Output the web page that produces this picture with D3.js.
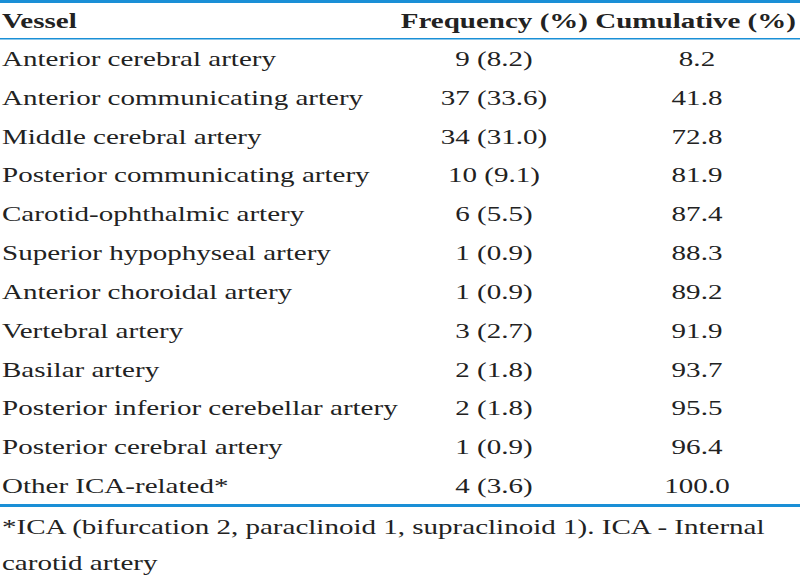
<!DOCTYPE html>
<html><head><meta charset="utf-8">
<script src="https://cdn.jsdelivr.net/npm/d3@7"></script>
<style>body{margin:0;background:#fff}</style>
</head><body>
<script>
const HEADERS = ["Vessel", "Frequency (%)", "Cumulative (%)"];
const VESSELS = ["Anterior cerebral artery", "Anterior communicating artery", "Middle cerebral artery",
  "Posterior communicating artery", "Carotid-ophthalmic artery", "Superior hypophyseal artery",
  "Anterior choroidal artery", "Vertebral artery", "Basilar artery",
  "Posterior inferior cerebellar artery", "Posterior cerebral artery", "Other ICA-related*"];
const FREQUENCY = ["9 (8.2)", "37 (33.6)", "34 (31.0)", "10 (9.1)", "6 (5.5)", "1 (0.9)",
  "1 (0.9)", "3 (2.7)", "2 (1.8)", "2 (1.8)", "1 (0.9)", "4 (3.6)"];
const CUMULATIVE = ["8.2", "41.8", "72.8", "81.9", "87.4", "88.3", "89.2", "91.9", "93.7", "95.5", "96.4", "100.0"];
const FOOTNOTE = ["*ICA (bifurcation 2, paraclinoid 1, supraclinoid 1). ICA - Internal",
  "carotid artery"];

const WIDTH = 800, HEIGHT = 579;
const BLUE = "#1a8fd6";
const FONT = "'Liberation Serif', 'Times New Roman', serif";
const SX = 1.32; // the reference glyphs are horizontally stretched

const svg = d3.select("body").append("svg").attr("width", WIDTH).attr("height", HEIGHT);

const y = d3.scalePoint().domain(d3.range(VESSELS.length)).range([66, 493]);

svg.append("rect").attr("x", 0).attr("y", 0).attr("width", WIDTH).attr("height", 3).attr("fill", BLUE);
svg.append("rect").attr("x", 0).attr("y", 38).attr("width", WIDTH).attr("height", 1.5).attr("fill", BLUE);
svg.append("rect").attr("x", 0).attr("y", 504).attr("width", WIDTH).attr("height", 3).attr("fill", BLUE);

const g = svg.append("g").attr("transform", `scale(${SX},1)`)
  .style("font-family", FONT).style("font-size", "22px").attr("fill", "#222");

const head = [[2, "start"], [588, "end"], [796, "end"]];
g.selectAll("text.h").data(HEADERS).join("text").attr("class", "h")
  .attr("x", (d, i) => head[i][0] / SX).attr("y", 28).attr("text-anchor", (d, i) => head[i][1])
  .attr("font-weight", "bold").text(d => d);

g.selectAll("text.v").data(VESSELS).join("text").attr("class", "v")
  .attr("x", 2 / SX).attr("y", (d, i) => y(i)).text(d => d);
g.selectAll("text.f").data(FREQUENCY).join("text").attr("class", "f")
  .attr("x", 494 / SX).attr("y", (d, i) => y(i)).attr("text-anchor", "middle").text(d => d);
g.selectAll("text.c").data(CUMULATIVE).join("text").attr("class", "c")
  .attr("x", 697 / SX).attr("y", (d, i) => y(i)).attr("text-anchor", "middle").text(d => d);

g.selectAll("text.n").data(FOOTNOTE).join("text").attr("class", "n")
  .attr("x", 2 / SX).attr("y", (d, i) => 534 + i * 36).text(d => d);
</script>
</body></html>
